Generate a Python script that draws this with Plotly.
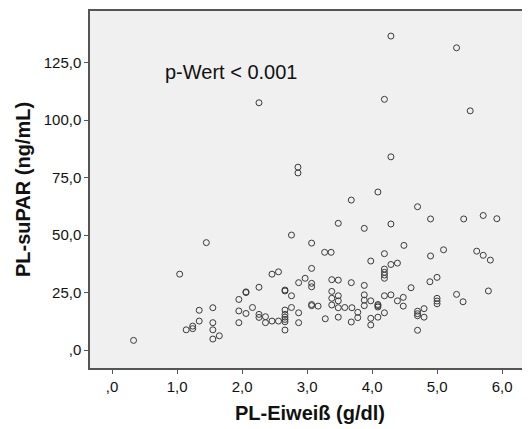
import plotly.graph_objects as go

# PL-Eiweiß (g/dl)
eiweiss = [
    0.33, 1.04, 1.45, 1.14, 1.24, 1.24, 1.34, 1.34, 1.55, 1.55, 1.55, 1.55, 1.65,
    2.46, 2.56, 3.07, 2.87, 2.97, 3.07, 3.07, 2.06, 2.06, 2.26, 1.95, 2.66, 2.66,
    2.76, 3.07, 3.07, 3.17, 1.95, 2.06, 2.16, 2.26, 2.26, 2.36, 2.36, 2.46, 2.56,
    2.66, 2.66, 2.66, 2.66, 2.66, 2.76, 2.87, 2.87, 1.95, 2.66,
    3.98, 4.29, 4.39, 4.19, 4.19, 4.19, 4.19, 3.38, 3.48, 3.68, 3.88, 3.38, 3.38,
    3.38, 3.48, 3.48, 3.48, 3.58, 3.69, 3.28, 3.48, 3.78, 3.78, 3.68, 3.88, 3.88,
    3.88, 3.98, 4.09, 4.09, 4.09, 3.98, 3.98, 4.09, 4.19, 4.29, 4.19, 4.39, 4.48, 4.48,
    4.89, 5.00, 4.60, 5.00, 5.00, 5.00, 5.30, 5.40, 5.79, 4.70, 4.70, 4.70, 4.80,
    4.80, 4.70,
    4.09, 3.68, 4.70, 3.48, 3.88, 4.29, 4.90, 5.41, 5.71, 5.92,
    3.07, 3.27, 3.37, 4.19, 4.49, 5.10, 5.61, 5.71, 5.82, 4.90, 2.76,
    2.26, 2.86, 2.86, 4.29, 5.30, 4.19, 5.51, 4.29,
]

# PL-suPAR (ng/mL)
supar = [
    4.2, 33.0, 46.7, 8.8, 9.3, 10.4, 12.6, 17.3, 18.4, 11.9, 8.8, 4.8, 6.2,
    33.0, 34.0, 35.5, 29.3, 31.2, 29.0, 27.5, 25.3, 25.0, 27.3, 22.0, 26.1, 25.7,
    23.6, 19.8, 19.3, 19.1, 17.0, 15.9, 18.5, 15.5, 14.2, 14.5, 11.9, 12.6, 12.6,
    17.4, 15.5, 14.3, 13.3, 12.3, 18.5, 16.2, 11.9, 11.9, 8.7,
    38.7, 37.2, 37.8, 35.2, 33.8, 32.6, 31.2, 30.6, 30.4, 29.3, 28.1, 25.5, 22.5,
    19.6, 23.6, 21.4, 18.4, 18.5, 18.4, 13.6, 14.3, 16.4, 14.1, 12.2, 24.0, 21.7,
    19.3, 21.4, 19.8, 19.3, 18.7, 13.8, 10.9, 14.3, 23.6, 24.0, 16.2, 21.4, 22.9, 19.1,
    29.7, 31.6, 27.1, 22.5, 21.3, 20.1, 24.2, 21.0, 25.7, 16.9, 15.8, 14.9, 18.0,
    14.3, 8.6,
    68.7, 65.2, 62.3, 55.1, 52.9, 54.8, 57.0, 57.0, 58.5, 57.1,
    46.5, 42.5, 42.5, 41.9, 45.5, 43.6, 43.0, 41.2, 39.1, 40.9, 50.0,
    107.5, 77.0, 79.5, 136.5, 131.4, 109.0, 104.0, 84.0,
]

x_ticks = [0, 1, 2, 3, 4, 5, 6]
x_labels = [",0", "1,0", "2,0", "3,0", "4,0", "5,0", "6,0"]
y_ticks = [0, 25, 50, 75, 100, 125]
y_labels = [",0", "25,0", "50,0", "75,0", "100,0", "125,0"]

FONT = "Liberation Sans, Arial, sans-serif"

fig = go.Figure()
fig.add_trace(go.Scatter(
    x=eiweiss, y=supar, mode="markers",
    marker=dict(symbol="circle-open", size=6, color="#3a3a3a", line=dict(width=1)),
    hoverinfo="x+y", showlegend=False,
))

fig.add_annotation(
    x=0.78, y=121, xref="x", yref="y", text="p-Wert < 0.001",
    showarrow=False, xanchor="left", yanchor="middle",
    font=dict(family=FONT, size=20, color="#111"),
)

fig.update_layout(
    width=522, height=421,
    margin=dict(l=82, r=0, t=3, b=61),
    paper_bgcolor="white", plot_bgcolor="#f0f0f0",
    font=dict(family=FONT, size=14, color="#111"),
    xaxis=dict(
        range=[-0.34, 6.43], tickvals=x_ticks, ticktext=x_labels,
        showgrid=False, zeroline=False,
        showline=True, linecolor="#555", linewidth=1.5, mirror=True,
        ticks="outside", ticklen=4, tickcolor="#555",
        tickfont=dict(family=FONT, size=15, color="#111"),
        title=dict(text="<b>PL-Eiweiß (g/dl)</b>", standoff=12,
                   font=dict(family=FONT, size=20, color="#111")),
    ),
    yaxis=dict(
        range=[-7.8, 147.4], tickvals=y_ticks, ticktext=y_labels,
        showgrid=False, zeroline=False,
        showline=True, linecolor="#555", linewidth=1.5,
        ticks="outside", ticklen=4, tickcolor="#555",
        tickfont=dict(family=FONT, size=15, color="#111"),
        title=dict(text="<b>PL-suPAR (ng/mL)</b>", standoff=8,
                   font=dict(family=FONT, size=20, color="#111")),
    ),
)

fig.write_html("out.html")
